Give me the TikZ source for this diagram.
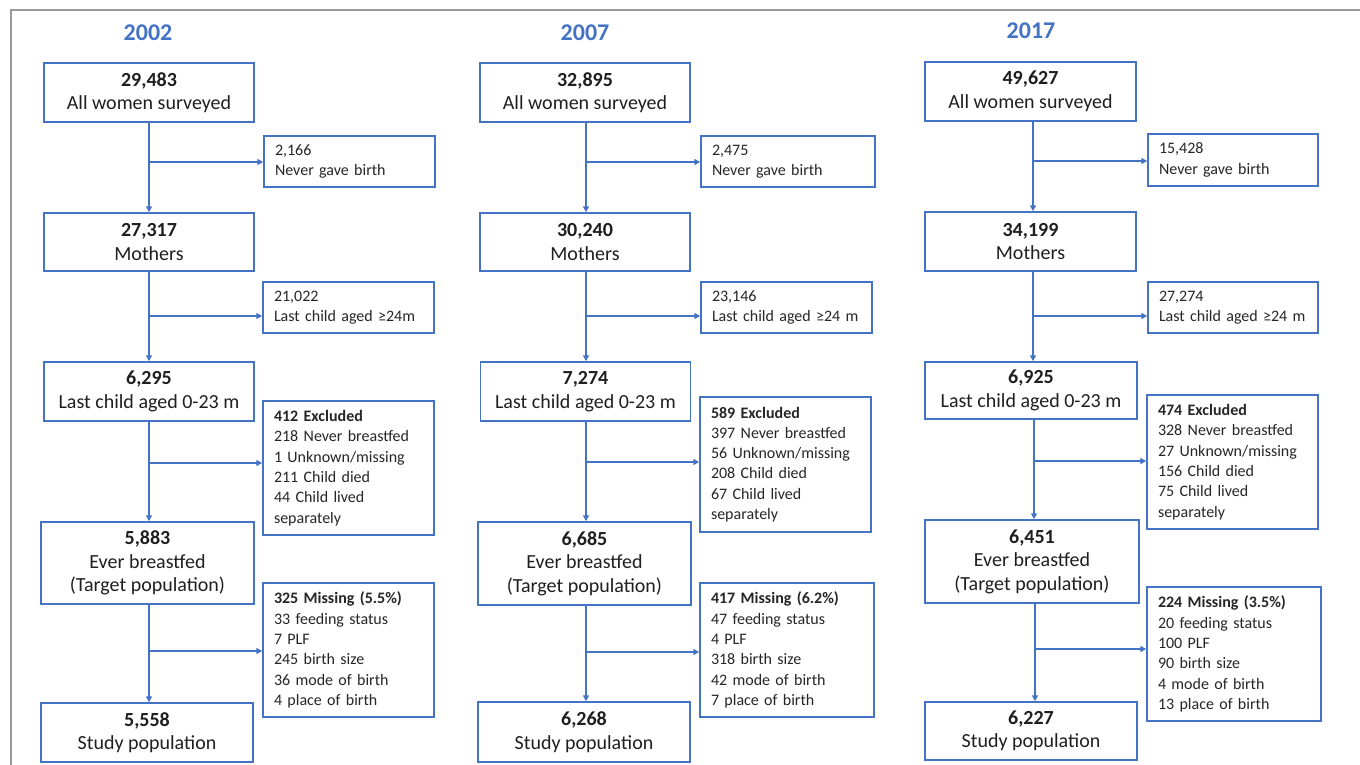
\documentclass[tikz,border=0pt]{standalone}
\usepackage{fontspec}
\setmainfont{Carlito}
\usetikzlibrary{arrows.meta}
\definecolor{ob}{HTML}{4472C4}
\definecolor{fr}{HTML}{9A9A9A}
\begin{document}
\begin{tikzpicture}[x=1pt,y=-1pt,
 mainbox/.style={draw=ob, line width=1.5pt, rectangle, align=center, inner sep=0pt, font=\fontsize{20}{23.5}\selectfont, text=black!88},
 sidebox/.style={draw=ob, line width=1.5pt, rectangle, align=left, inner xsep=11pt, inner ysep=0pt, font=\fontsize{16}{20.3}\selectfont, text=black!85},
 conn/.style={draw=ob, line width=1.5pt},
 arr/.style={conn, -{Triangle[length=6pt,width=6pt]}},
 yeartitle/.style={font=\bfseries\fontsize{24}{28}\selectfont, text=ob}]
\useasboundingbox (0,0) rectangle (1360,765);
\fill[white] (0,0) rectangle (1360,765);
\draw[fr, line width=1.6pt] (1360,10) -- (11,10) -- (11,765);

% ---------- 2002 ----------
\node[yeartitle] (t1) at (148,33) {2002};
\node[mainbox, minimum width=210pt, minimum height=59pt] (a1) at (149,92.5) {\textbf{29,483}\\All women surveyed};
\node[sidebox, minimum height=51pt, text width=149pt] (n1) at (349.5,161.5) {2,166\\Never gave birth};
\node[mainbox, minimum width=210pt, minimum height=58pt] (b1) at (149,242) {\textbf{27,317}\\Mothers};
\node[sidebox, minimum height=51pt, text width=149pt] (l1) at (348.5,307.5) {21,022\\Last child aged ≥24m};
\node[mainbox, minimum width=210pt, minimum height=59pt] (c1) at (149,391.5) {\textbf{6,295}\\Last child aged 0-23 m};
\node[sidebox, minimum height=134pt, text width=149pt] (e1) at (348.5,468) {\textbf{412 Excluded}\\218 Never breastfed\\1 Unknown/missing\\211 Child died\\44 Child lived\\separately};
\node[mainbox, minimum width=213pt, minimum height=82pt] (d1) at (147.5,563) {\textbf{5,883}\\Ever breastfed\\(Target population)};
\node[sidebox, minimum height=134pt, text width=149pt] (m1) at (348.5,650) {\textbf{325 Missing (5.5\%)}\\33 feeding status\\7 PLF\\245 birth size\\36 mode of birth\\4 place of birth};
\node[mainbox, minimum width=212pt, minimum height=59pt] (f1) at (147,732.5) {\textbf{5,558}\\Study population};
\coordinate (j1a) at (149,162);
\coordinate (j1b) at (149,316);
\coordinate (j1c) at (149,463);
\coordinate (j1d) at (149,651);
\draw[arr] (a1.south) -- (a1.south |- b1.north);
\draw[arr] (b1.south) -- (b1.south |- c1.north);
\draw[arr] (c1.south) -- (c1.south |- d1.north);
\draw[arr] (c1.south |- d1.south) -- (c1.south |- f1.north);
\draw[arr] (j1a) -- (n1.west |- j1a);
\draw[arr] (j1b) -- (l1.west |- j1b);
\draw[arr] (j1c) -- (e1.west |- j1c);
\draw[arr] (j1d) -- (m1.west |- j1d);

% ---------- 2007 ----------
\node[yeartitle] (t2) at (585,33) {2007};
\node[mainbox, minimum width=210pt, minimum height=59pt] (a2) at (585,92.5) {\textbf{32,895}\\All women surveyed};
\node[sidebox, minimum height=51pt, text width=152pt] (n2) at (788,161.5) {2,475\\Never gave birth};
\node[mainbox, minimum width=210pt, minimum height=58pt] (b2) at (585,242) {\textbf{30,240}\\Mothers};
\node[sidebox, minimum height=51pt, text width=149pt] (l2) at (786.5,307.5) {23,146\\Last child aged ≥24 m};
\node[mainbox, minimum width=210pt, minimum height=59pt] (c2) at (585.5,391.5) {\textbf{7,274}\\Last child aged 0-23 m};
\node[sidebox, minimum height=135pt, text width=149pt] (e2) at (785.5,464.5) {\textbf{589 Excluded}\\397 Never breastfed\\56 Unknown/missing\\208 Child died\\67 Child lived\\separately};
\node[mainbox, minimum width=213pt, minimum height=83pt] (d2) at (584.5,563.5) {\textbf{6,685}\\Ever breastfed\\(Target population)};
\node[sidebox, minimum height=134pt, text width=152pt] (m2) at (787,650) {\textbf{417 Missing (6.2\%)}\\47 feeding status\\4 PLF\\318 birth size\\42 mode of birth\\7 place of birth};
\node[mainbox, minimum width=212pt, minimum height=60pt] (f2) at (584,732) {\textbf{6,268}\\Study population};
\coordinate (j2a) at (586,162);
\coordinate (j2b) at (586,316);
\coordinate (j2c) at (586,462);
\coordinate (j2d) at (586,652);
\draw[arr] (j2a |- a2.south) -- (j2a |- b2.north);
\draw[arr] (j2a |- b2.south) -- (j2a |- c2.north);
\draw[arr] (j2a |- c2.south) -- (j2a |- d2.north);
\draw[arr] (j2a |- d2.south) -- (j2a |- f2.north);
\draw[arr] (j2a) -- (n2.west |- j2a);
\draw[arr] (j2b) -- (l2.west |- j2b);
\draw[arr] (j2c) -- (e2.west |- j2c);
\draw[arr] (j2d) -- (m2.west |- j2d);

% ---------- 2017 ----------
\node[yeartitle] (t3) at (1031,31) {2017};
\node[mainbox, minimum width=211pt, minimum height=59pt] (a3) at (1030.5,91.5) {\textbf{49,627}\\All women surveyed};
\node[sidebox, minimum height=52pt, text width=148pt] (n3) at (1233,160) {15,428\\Never gave birth};
\node[mainbox, minimum width=211pt, minimum height=59pt] (b3) at (1030.5,241.5) {\textbf{34,199}\\Mothers};
\node[sidebox, minimum height=51pt, text width=148pt] (l3) at (1233,307.5) {27,274\\Last child aged ≥24 m};
\node[mainbox, minimum width=212pt, minimum height=57pt] (c3) at (1031,390.5) {\textbf{6,925}\\Last child aged 0-23 m};
\node[sidebox, minimum height=134pt, text width=149pt] (e3) at (1232.5,462) {\textbf{474 Excluded}\\328 Never breastfed\\27 Unknown/missing\\156 Child died\\75 Child lived\\separately};
\node[mainbox, minimum width=214pt, minimum height=83pt] (d3) at (1032,561.5) {\textbf{6,451}\\Ever breastfed\\(Target population)};
\node[sidebox, minimum height=134pt, text width=152pt] (m3) at (1234,654) {\textbf{224 Missing (3.5\%)}\\20 feeding status\\100 PLF\\90 birth size\\4 mode of birth\\13 place of birth};
\node[mainbox, minimum width=212pt, minimum height=58pt] (f3) at (1031,731) {\textbf{6,227}\\Study population};
\coordinate (j3a) at (1033,161);
\coordinate (j3b) at (1033,316);
\coordinate (j3c) at (1034,461);
\coordinate (j3d) at (1035,649);
\draw[arr] (j3a |- a3.south) -- (j3a |- b3.north);
\draw[arr] (j3a |- b3.south) -- (j3a |- c3.north);
\draw[arr] (j3c |- c3.south) -- (j3c |- d3.north);
\draw[arr] (j3d |- d3.south) -- (j3d |- f3.north);
\draw[arr] (j3a) -- (n3.west |- j3a);
\draw[arr] (j3b) -- (l3.west |- j3b);
\draw[arr] (j3c) -- (e3.west |- j3c);
\draw[arr] (j3d) -- (m3.west |- j3d);
\end{tikzpicture}
\end{document}
